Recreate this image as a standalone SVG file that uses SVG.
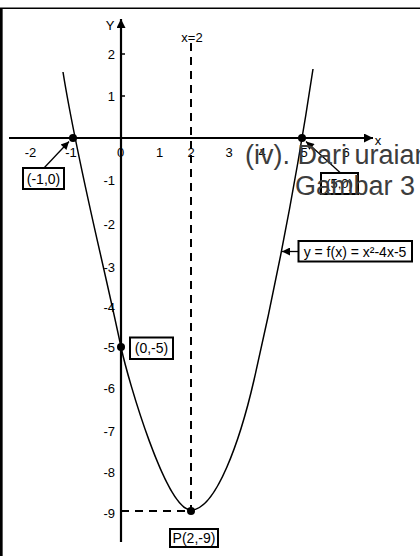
<svg xmlns="http://www.w3.org/2000/svg" width="420" height="556" viewBox="0 0 420 556">
<defs>
<marker id="ah" viewBox="0 0 10 10" refX="10" refY="5" markerWidth="10" markerHeight="8" markerUnits="userSpaceOnUse" orient="auto">
<path d="M0,0 L10,5 L0,10 Z" fill="#000"/>
</marker>
<marker id="axh" viewBox="0 0 10 10" refX="10" refY="5" markerWidth="9" markerHeight="9" markerUnits="userSpaceOnUse" orient="auto">
<path d="M0,0 L10,5 L0,10 Z" fill="#000"/>
</marker>
</defs>
<style>
.t{font-family:"Liberation Sans",Arial,sans-serif;font-size:13px;fill:#000}
.lb{font-family:"Liberation Sans",Arial,sans-serif;font-size:14px;fill:#000}
.box{fill:#fff;stroke:#000;stroke-width:2}
.dash{stroke:#000;stroke-width:2;stroke-dasharray:8,6;fill:none}
.ax{stroke:#000;stroke-width:2.2;fill:none}
.cv{stroke:#000;stroke-width:1.5;fill:none}
.con{stroke:#000;stroke-width:1.3;fill:none}
.big{font-family:"Liberation Sans",Arial,sans-serif;font-size:27px;fill:#3d3d3d}
</style>
<rect width="420" height="556" fill="#fff"/>
<g id="frame">
<line x1="0" y1="8.3" x2="420" y2="8.3" stroke="#000" stroke-width="1.4"/>
<line x1="1.3" y1="8" x2="1.3" y2="556" stroke="#000" stroke-width="2.7"/>
</g>
<g id="axes">
<line class="ax" x1="9" y1="138" x2="373" y2="138" marker-end="url(#axh)"/>
<line class="ax" x1="121" y1="542" x2="121" y2="19" marker-end="url(#axh)"/>
<line x1="121" y1="54" x2="125" y2="54" stroke="#000" stroke-width="1.5"/>
<line x1="121" y1="96" x2="125" y2="96" stroke="#000" stroke-width="1.5"/>
<text class="t" x="378" y="145" text-anchor="middle">x</text>
<text class="t" x="110" y="30" text-anchor="middle">Y</text>
<g text-anchor="middle">
<text class="t" x="30.5" y="157">-2</text>
<text class="t" x="71" y="157">-1</text>
<text class="t" x="120.5" y="157">0</text>
<text class="t" x="159.5" y="157">1</text>
<text class="t" x="191" y="157">2</text>
<text class="t" x="229" y="157">3</text>
<text class="t" x="262" y="157">4</text>
<text class="t" x="304" y="157">5</text>
<text class="t" x="346" y="157">6</text>
</g>
<g text-anchor="end">
<text class="t" x="115" y="59">2</text>
<text class="t" x="115" y="101">1</text>
<text class="t" x="115" y="185">-1</text>
<text class="t" x="115" y="229">-2</text>
<text class="t" x="115" y="272">-3</text>
<text class="t" x="115" y="312">-4</text>
<text class="t" x="115" y="352">-5</text>
<text class="t" x="115" y="393">-6</text>
<text class="t" x="115" y="436">-7</text>
<text class="t" x="115" y="477">-8</text>
<text class="t" x="115" y="518">-9</text>
</g>
</g>
<g id="symmetry-line">
<line class="dash" x1="191" y1="43" x2="191" y2="511"/>
<line class="dash" x1="121" y1="511" x2="191" y2="511"/>
<text class="t" x="192" y="42" text-anchor="middle">x=2</text>
</g>
<g id="parabola">
<path class="cv" d="M63,72 C77.7,164 101.7,255 121,347 C128,380 166,510 191,510 C216,510 240.2,440 254,380 C277,280 298,169 313,69"/>
</g>
<g id="points">
<circle cx="73" cy="138" r="4"/>
<circle cx="302" cy="138" r="4"/>
<circle cx="121" cy="347" r="4"/>
<circle cx="191" cy="511" r="4"/>
</g>
<g id="connectors">
<line class="con" x1="44" y1="168" x2="69" y2="141.5" marker-end="url(#ah)"/>
<line class="con" x1="340" y1="172.5" x2="306" y2="141.5" marker-end="url(#ah)"/>
<line class="con" x1="298" y1="251.5" x2="282" y2="251.5" marker-end="url(#ah)"/>
</g>
<g id="label-m1-0">
<rect class="box" x="23" y="168" width="41" height="21"/>
<text class="lb" x="43.5" y="183.5" text-anchor="middle">(-1,0)</text>
</g>
<g id="label-5-0">
<rect class="box" x="321" y="173" width="37" height="21"/>
<text class="t" x="339.5" y="188" text-anchor="middle" fill="#333">(5,0)</text>
</g>
<g id="label-0-m5">
<rect class="box" x="130" y="337.5" width="43" height="21.5"/>
<text class="lb" x="151.5" y="353" text-anchor="middle">(0,-5)</text>
</g>
<g id="label-func">
<rect class="box" x="298.5" y="241" width="113.5" height="20.5"/>
<text class="lb" x="355" y="256.5" text-anchor="middle">y = f(x) = x²-4x-5</text>
</g>
<g id="label-vertex">
<rect class="box" x="170" y="529" width="48" height="18"/>
<text class="lb" x="194" y="543" text-anchor="middle">P(2,-9)</text>
</g>
<g id="overflow-text">
<text class="big" x="245" y="163.5">(iv). Dari uraian</text>
<text class="big" x="295" y="194.5">Gambar 3</text>
</g>
</svg>
